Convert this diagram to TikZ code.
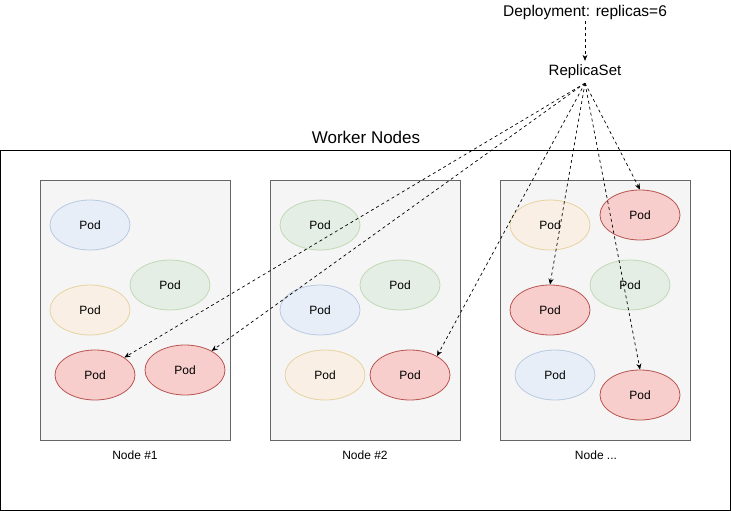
\documentclass[tikz,border=0pt]{standalone}
\usepackage{fontspec}
\setmainfont{Liberation Sans}
\usetikzlibrary{positioning, arrows.meta, shapes.geometric}

\definecolor{boxfill}{HTML}{F5F5F5}
\definecolor{boxline}{HTML}{666666}
\definecolor{bluefill}{HTML}{DAE8FC}
\definecolor{blueline}{HTML}{6C8EBF}
\definecolor{greenfill}{HTML}{D5E8D4}
\definecolor{greenline}{HTML}{82B366}
\definecolor{yellowfill}{HTML}{FFE6CC}
\definecolor{yellowline}{HTML}{D6B656}
\definecolor{redfill}{HTML}{F8CECC}
\definecolor{redline}{HTML}{B85450}

\tikzset{
  pod/.style={ellipse, minimum width=80pt, minimum height=50pt, inner sep=0pt,
    line width=0.8pt, font=\fontsize{12}{14}\selectfont},
  bluepod/.style={pod, draw=blueline, fill=bluefill, draw opacity=0.4, fill opacity=0.5, text opacity=1},
  greenpod/.style={pod, draw=greenline, fill=greenfill, draw opacity=0.4, fill opacity=0.5, text opacity=1},
  yellowpod/.style={pod, draw=yellowline, fill=yellowfill, draw opacity=0.5, fill opacity=0.4, text opacity=1},
  redpod/.style={pod, draw=redline, fill=redfill},
  worker/.style={draw=boxline, fill=boxfill, line width=1pt, minimum width=190pt,
    minimum height=260pt, inner sep=0pt},
  schedule/.style={-{Stealth[length=6pt, width=5pt]}, dash pattern=on 3pt off 3pt, line width=0.7pt}
}

\begin{document}
\begin{tikzpicture}[x=1pt, y=-1pt]
    \useasboundingbox (0,0) rectangle (731,511);

    \draw[line width=1pt] (0.5,150) rectangle (730,510);
    \node[font=\fontsize{17}{20}\selectfont] (title) at (366,137) {Worker Nodes};

    \node[font=\fontsize{15.5}{18}\selectfont, inner sep=2pt] (dep) at (585,12) {Deployment: replicas=6};
    \node[font=\fontsize{15}{18}\selectfont, inner sep=4pt] (rs) at (585,72) {ReplicaSet};

    % worker machines
    \node[worker] (n1) at (135,310) {};
    \node[worker] (n2) at (365,310) {};
    \node[worker] (n3) at (595,310) {};
    \node[font=\fontsize{12}{14}\selectfont] (l1) at (135,455) {Node \#1};
    \node[font=\fontsize{12}{14}\selectfont] (l2) at (365,455) {Node \#2};
    \node[font=\fontsize{12}{14}\selectfont] (l3) at (596,455) {Node ...};

    % pods on node 1
    \node[bluepod] (p11) at (90,225) {Pod};
    \node[greenpod] (p12) at (170,285) {Pod};
    \node[yellowpod] (p13) at (90,310) {Pod};
    \node[redpod] (r1) at (95,375) {Pod};
    \node[redpod] (r2) at (185,370) {Pod};

    % pods on node 2
    \node[greenpod] (p21) at (320,225) {Pod};
    \node[greenpod] (p22) at (400,285) {Pod};
    \node[bluepod] (p23) at (320,310) {Pod};
    \node[yellowpod] (p24) at (325,375) {Pod};
    \node[redpod] (r3) at (410,375) {Pod};

    % pods on node 3
    \node[yellowpod] (p31) at (550,225) {Pod};
    \node[greenpod] (p32) at (630,285) {Pod};
    \node[bluepod] (p33) at (555,375) {Pod};
    \node[redpod] (r4) at (640,215) {Pod};
    \node[redpod] (r5) at (550,310) {Pod};
    \node[redpod] (r6) at (640,395) {Pod};

    \draw[schedule] (dep) -- (rs);
    \draw[schedule] (rs.south) -- (r1);
    \draw[schedule] (rs.south) -- (r2);
    \draw[schedule] (rs.south) -- (r3.35);
    \draw[schedule] (rs.south) -- (r4.north);
    \draw[schedule] (rs.south) -- (r5.north);
    \draw[schedule] (rs.south) -- (r6.north);
\end{tikzpicture}
\end{document}
